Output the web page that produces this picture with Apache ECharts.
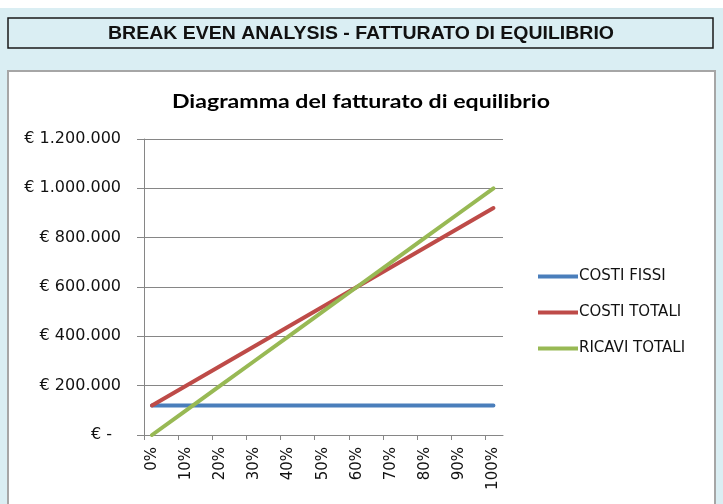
<!DOCTYPE html>
<html>
<head>
<meta charset="utf-8">
<script src="https://cdn.jsdelivr.net/npm/echarts@6/dist/echarts.min.js"></script>
<style>html,body{margin:0;padding:0;background:#fff;}#c{width:723px;height:504px;}</style>
</head>
<body>
<div id="c"></div>
<script>
const categories = ['0%','10%','20%','30%','40%','50%','60%','70%','80%','90%','100%'];
const costiFissi = [120000,120000,120000,120000,120000,120000,120000,120000,120000,120000,120000];
const costiTotali = [120000,200000,280000,360000,440000,520000,600000,680000,760000,840000,920000];
const ricaviTotali = [0,100000,200000,300000,400000,500000,600000,700000,800000,900000,1000000];
const headerTitle = 'BREAK EVEN ANALYSIS - FATTURATO DI EQUILIBRIO';
const chartTitle = 'Diagramma del fatturato di equilibrio';

function pairs(arr){ return arr.map((v,i)=>[i,v]); }
function fmtEuro(v){
  if (v === 0) return '{z|€ -}';
  return '€ ' + String(v).replace(/\B(?=(\d{3})+(?!\d))/g, '.');
}
const tickPos = categories.map((c,i)=> i - 0.234);

const mctx = document.createElement('canvas').getContext('2d');
function fitScale(text, font, target){
  mctx.font = font;
  return target / mctx.measureText(text).width;
}
const headerFont = 'bold 19px "Liberation Sans", Arial, sans-serif';
const titleFont = 'bold 19px Lato, sans-serif';
const headerScale = fitScale(headerTitle, headerFont, 506);
const titleScale = fitScale(chartTitle, titleFont, 378);

const AX_FONT = '"DejaVu Sans", sans-serif';

const chart = echarts.init(document.getElementById('c'), null, {renderer:'canvas'});
chart.setOption({
  backgroundColor: '#ffffff',
  animation: false,
  graphic: [
    {type:'rect', shape:{x:0,y:8,width:723,height:496}, style:{fill:'#daeef3'}, z:-10, silent:true},
    {type:'rect', shape:{x:8,y:18,width:705,height:30}, style:{fill:'#daeef3', stroke:'#1a1a1a', lineWidth:1.5}, z:-9, silent:true},
    {type:'text', x:361, y:34, scaleX:headerScale, style:{text:headerTitle, fill:'#111', font:headerFont, align:'center', verticalAlign:'middle'}, z:-8, silent:true},
    {type:'rect', shape:{x:8,y:71,width:707,height:440}, style:{fill:'#ffffff', stroke:'#a6a6a6', lineWidth:2}, z:-9, silent:true},
    {type:'text', x:361, y:102, scaleX:titleScale, style:{text:chartTitle, fill:'#000', font:titleFont, align:'center', verticalAlign:'middle'}, z:5, silent:true}
  ],
  legend: {
    orient:'vertical', left:533, top:264,
    icon:'rect', itemWidth:40, itemHeight:4, itemGap:21,
    textStyle:{fontFamily:AX_FONT, fontSize:15, color:'#111', padding:[0,0,0,-4]},
    data:['COSTI FISSI','COSTI TOTALI','RICAVI TOTALI']
  },
  grid: {left:144, right:220, top:139, bottom:69, containLabel:false},
  xAxis: {
    type:'value', min:-0.234, max:10.28,
    splitLine:{show:false},
    axisLine:{show:true, onZero:false, lineStyle:{color:'#868686', width:1}},
    axisTick:{show:true, customValues:tickPos, length:5, lineStyle:{color:'#868686'}},
    axisLabel:{customValues:categories.map((c,i)=>i), rotate:90, margin:12,
      formatter:(v)=>categories[Math.round(v)], fontFamily:AX_FONT, fontSize:15, color:'#111'}
  },
  yAxis: {
    type:'value', min:0, max:1200000, interval:200000,
    axisLine:{show:true, onZero:false, lineStyle:{color:'#868686', width:1}},
    axisTick:{show:true, length:7, lineStyle:{color:'#868686'}},
    splitLine:{show:true, lineStyle:{color:'#868686', width:1}},
    axisLabel:{margin:23, formatter:fmtEuro, fontFamily:AX_FONT, fontSize:16, color:'#111',
      rich:{z:{fontFamily:AX_FONT, fontSize:16, color:'#111', padding:[0,9,0,0]}}}
  },
  series: [
    {name:'COSTI FISSI', type:'line', data:pairs(costiFissi), showSymbol:false, symbol:'none',
      lineStyle:{width:4, color:'#4a7ebb', cap:'round'}, itemStyle:{color:'#4a7ebb'}},
    {name:'COSTI TOTALI', type:'line', data:pairs(costiTotali), showSymbol:false, symbol:'none',
      lineStyle:{width:4, color:'#be4b48', cap:'round'}, itemStyle:{color:'#be4b48'}},
    {name:'RICAVI TOTALI', type:'line', data:pairs(ricaviTotali), showSymbol:false, symbol:'none',
      lineStyle:{width:4, color:'#98b954', cap:'round'}, itemStyle:{color:'#98b954'}}
  ]
});
</script>
</body>
</html>
